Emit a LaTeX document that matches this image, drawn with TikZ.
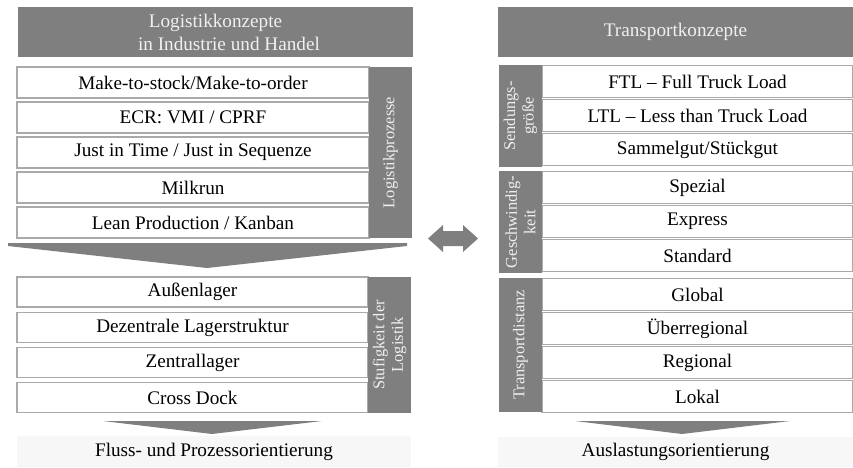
\documentclass[tikz,border=0pt]{standalone}
\usepackage{fontspec}
\setmainfont{Liberation Serif}
\usetikzlibrary{positioning}

\definecolor{balken}{RGB}{127,127,127}
\definecolor{rahmen}{RGB}{170,170,170}
\definecolor{hell}{RGB}{240,240,240}
\definecolor{fussfeld}{RGB}{247,247,247}

\tikzset{
    kopf/.style={fill=balken, text=hell, inner sep=0pt, align=center, font=\fontsize{19.2}{23}\selectfont},
    zeile/.style={draw=rahmen, line width=1.2pt, fill=white, inner sep=0pt, font=\fontsize{19.2}{23}\selectfont},
    seite/.style={fill=balken, text=hell, inner sep=0pt, align=center, rotate=90, font=\fontsize{16.4}{18.5}\selectfont},
    fuss/.style={fill=fussfeld, inner sep=0pt, font=\fontsize{19.2}{23}\selectfont},
    pfeil/.style={fill=balken}
}

\begin{document}
\begin{tikzpicture}[x=1pt, y=-1pt]
    \useasboundingbox (0,0) rectangle (853,467);

    % Left column: logistics concepts
    \node[kopf, minimum width=395, minimum height=50] (logkopf) at (215.5,32) {Logistikkonzepte\\\hspace*{1.4em}in Industrie und Handel};

    \node[zeile, minimum width=352, minimum height=31] (mts) at (193,82.5) {Make-to-stock/Make-to-order};
    \node[zeile, minimum width=352, minimum height=31] (ecr) at (193,117.5) {ECR: VMI / CPRF};
    \node[zeile, minimum width=352, minimum height=31] (jit) at (193,152.5) {Just in Time / Just in Sequenze};
    \node[zeile, minimum width=352, minimum height=31] (milk) at (193,187.5) {Milkrun};
    \node[zeile, minimum width=352, minimum height=31] (lean) at (193,222.5) {Lean Production / Kanban};
    \node[seite, minimum width=171, minimum height=43] (prozesse) at (390.5,152.5) {Logistikprozesse};

    % Wide arrow between the two blocks
    \fill[pfeil] (8,243) -- (407,243) -- (407,246) -- (207,268) -- (8,246) -- cycle;

    \node[zeile, minimum width=351, minimum height=30] (aussen) at (192.5,292) {Außenlager};
    \node[zeile, minimum width=351, minimum height=30] (dezentral) at (192.5,327.5) {Dezentrale Lagerstruktur};
    \node[zeile, minimum width=351, minimum height=30] (zentral) at (192.5,362.5) {Zentrallager};
    \node[zeile, minimum width=351, minimum height=30] (cross) at (192.5,397.5) {Cross Dock};
    \node[seite, minimum width=136, minimum height=43] (stufen) at (389.5,345) {Stufigkeit der\\Logistik};

    \fill[pfeil] (103,421) -- (322,421) -- (212,434) -- cycle;
    \node[fuss, minimum width=394, minimum height=31] (fluss) at (214,451.5) {Fluss- und Prozessorientierung};

    % Double arrow in the middle
    \fill[pfeil] (428,238.5) -- (443,225) -- (443,231) -- (463,231) -- (463,225) -- (478,238.5)
        -- (463,252) -- (463,246) -- (443,246) -- (443,252) -- cycle;

    % Right column: transport concepts
    \node[kopf, minimum width=355, minimum height=50] (transkopf) at (675.5,32) {Transportkonzepte};

    \node[zeile, minimum width=311, minimum height=32] (ftl) at (697.5,81.5) {FTL – Full Truck Load};
    \node[zeile, minimum width=311, minimum height=32] (ltl) at (697.5,115.5) {LTL – Less than Truck Load};
    \node[zeile, minimum width=311, minimum height=32] (sammel) at (697.5,149.5) {Sammelgut/Stückgut};
    \node[seite, minimum width=102, minimum height=43] (sendung) at (520.5,116) {Sendungs-\\größe};

    \node[zeile, minimum width=311, minimum height=32] (spezial) at (697.5,187.5) {Spezial};
    \node[zeile, minimum width=311, minimum height=32] (express) at (697.5,221.5) {Express};
    \node[zeile, minimum width=311, minimum height=32] (standard) at (697.5,255.5) {Standard};
    \node[seite, minimum width=102, minimum height=43] (tempo) at (520.5,222) {Geschwindig-\\keit};

    \node[zeile, minimum width=311, minimum height=32] (global) at (697.5,294.5) {Global};
    \node[zeile, minimum width=311, minimum height=32] (ueber) at (697.5,328.5) {Überregional};
    \node[zeile, minimum width=311, minimum height=32] (regional) at (697.5,362.5) {Regional};
    \node[zeile, minimum width=311, minimum height=32] (lokal) at (697.5,396.5) {Lokal};
    \node[seite, minimum width=134, minimum height=43] (distanz) at (520.5,345) {Transportdistanz};

    \fill[pfeil] (575,421) -- (790,421) -- (682,434) -- cycle;
    \node[fuss, minimum width=355, minimum height=30] (auslast) at (675.5,452) {Auslastungsorientierung};
\end{tikzpicture}
\end{document}
